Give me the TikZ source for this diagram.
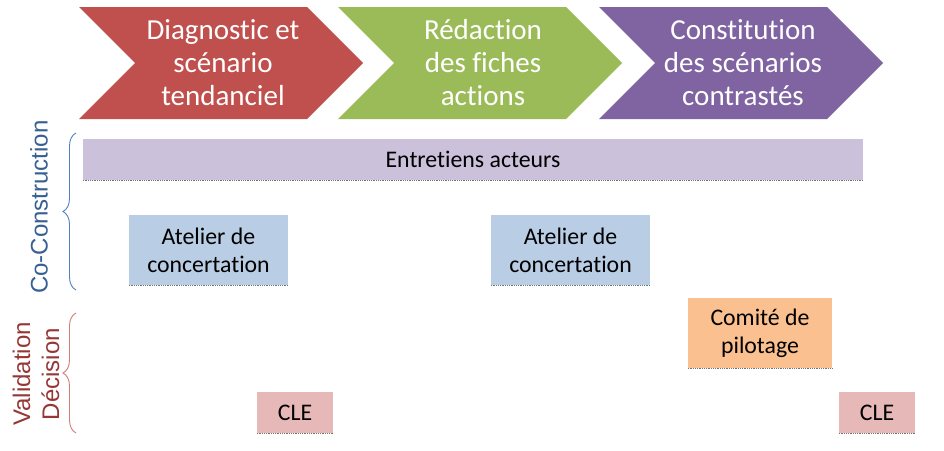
\documentclass[tikz,border=0pt]{standalone}
\usepackage{fontspec}
\setmainfont[Ligatures={NoCommon}]{Carlito}
\newfontfamily\arialf{Liberation Sans}
\usetikzlibrary{decorations.pathreplacing}
\definecolor{chred}{HTML}{C0504D}
\definecolor{chgreen}{HTML}{9BBB59}
\definecolor{chpurple}{HTML}{8064A2}
\definecolor{boxlav}{HTML}{CCC1DA}
\definecolor{boxblue}{HTML}{B9CDE5}
\definecolor{boxorange}{HTML}{FAC090}
\definecolor{boxpink}{HTML}{E6B9B8}
\definecolor{bracblue}{HTML}{4F81BD}
\definecolor{bracred}{HTML}{D47A78}
\definecolor{lblblue}{HTML}{376092}
\definecolor{lblred}{HTML}{953735}
\tikzset{
  chevtext/.style={text=white, align=center, font=\fontsize{29}{33}\selectfont},
  taskbox/.style={inner sep=0pt, align=center, font=\fontsize{23.8}{28}\selectfont, text=black},
  shadowline/.style={draw=black!55, line width=0.8pt, densely dotted},
  bracestyle/.style={decorate, decoration={brace, amplitude=13pt}, line width=0.9pt},
  sidelabel/.style={rotate=90, align=center, font=\arialf\fontsize{24}{29}\selectfont}
}
\newcommand{\chevron}[2]{%
  \fill[#2] (#1,7) -- ++(228,0) -- ++(56,56) -- ++(-56,56) -- ++(-228,0) -- ++(56,-56) -- cycle;}
\begin{document}
\begin{tikzpicture}[x=1pt,y=-1pt]
\useasboundingbox (0,0) rectangle (944,450);
\fill[white] (0,0) rectangle (944,450);
% chevrons
\chevron{79}{chred}
\chevron{338}{chgreen}
\chevron{599}{chpurple}
\node[chevtext] (c1) at (223,63) {Diagnostic et\\scénario\\tendanciel};
\node[chevtext] (c2) at (483,63) {Rédaction\\des fiches\\actions};
\node[chevtext] (c3) at (743,63) {Constitution\\des scénarios\\contrastés};
% task boxes
\node[taskbox, fill=boxlav, minimum width=780pt, minimum height=41pt] (ent) at (473,159.5) {Entretiens acteurs};
\node[taskbox, fill=boxblue, minimum width=159pt, minimum height=70pt] (at1) at (208.5,250) {Atelier de\\concertation};
\node[taskbox, fill=boxblue, minimum width=159pt, minimum height=70pt] (at2) at (570.5,250) {Atelier de\\concertation};
\node[taskbox, fill=boxorange, minimum width=144pt, minimum height=70pt] (com) at (760,333) {Comité de\\pilotage};
\node[taskbox, fill=boxpink, minimum width=76pt, minimum height=41pt] (cle1) at (295,412.5) {CLE};
\node[taskbox, fill=boxpink, minimum width=76pt, minimum height=41pt] (cle2) at (877,412.5) {CLE};
\foreach \b in {ent,at1,at2,com,cle1,cle2}{
  \draw[shadowline] (\b.south west) -- (\b.south east);
}
% braces
\coordinate (b1top) at (76,133);
\coordinate (b1bot) at (76,290);
\coordinate (b2top) at (76,313);
\coordinate (b2bot) at (76,433);
\draw[bracestyle, bracblue] (b1bot) -- (b1top);
\draw[bracestyle, bracred] (b2bot) -- (b2top);
% side labels
\node[sidelabel, text=lblblue] (lco) at (39,207) {Co-Construction};
\node[sidelabel, text=lblred] (lval) at (36,374) {Validation\\Décision};
\end{tikzpicture}
\end{document}
